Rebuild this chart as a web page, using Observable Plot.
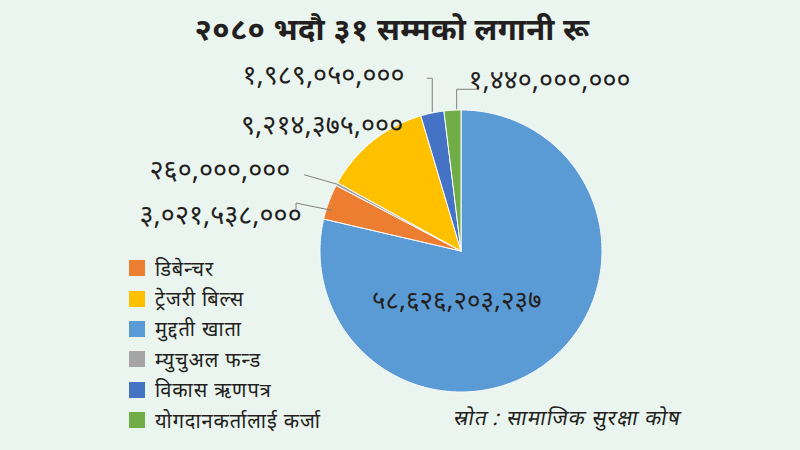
<!DOCTYPE html>
<html>
<head>
<meta charset="utf-8">
<script src="https://cdn.jsdelivr.net/npm/d3@7"></script>
<script src="https://cdn.jsdelivr.net/npm/@observablehq/plot@0.6"></script>
<style>
  html, body { margin: 0; padding: 0; background: #ebf5ef; }
  #wrap { position: relative; width: 800px; height: 450px; overflow: hidden; background: #ebf5ef;
          font-family: "Noto Sans", "DejaVu Sans", sans-serif; color: #231f20; }
  #title { position: absolute; left: 0; width: 784px; top: 7px; text-align: center; font-size: 31px; font-weight: bold; letter-spacing: 0.3px; }
  #legend { position: absolute; left: 129px; top: 253px; font-size: 20px; letter-spacing: 0.9px; }
  #legend .row { display: flex; align-items: center; height: 30.4px; }
  #legend .sw { width: 16px; height: 16px; margin-right: 10px; }
  #source { position: absolute; left: 452px; top: 403px; font-size: 21px; font-style: italic; letter-spacing: 1px; transform: skewX(-10deg); transform-origin: left bottom; }
  #chart { position: absolute; left: 0; top: 0; }
  g[aria-label="outer-labels"] text { letter-spacing: 3.4px; }
  g[aria-label="center-label"] text { letter-spacing: 0.8px; }
</style>
</head>
<body>
<div id="wrap">
  <div id="chart"></div>
  <div id="title"></div>
  <div id="legend"></div>
  <div id="source"></div>
</div>
<script>
// ---- data ----
const titleText = "२०८० भदौ ३१ सम्मको लगानी रू";
const sourceText = "स्रोत : सामाजिक सुरक्षा कोष";
// legend order
const legendCategories = ["डिबेन्चर", "ट्रेजरी बिल्स", "मुद्दती खाता", "म्युचुअल फन्ड", "विकास ऋणपत्र", "योगदानकर्तालाई कर्जा"];
const legendColors = ["#ED7D31", "#FFC000", "#5B9BD5", "#A5A5A5", "#4472C4", "#70AD47"];
// pie order (clockwise from 12 o'clock)
const pieCategories = ["मुद्दती खाता", "डिबेन्चर", "म्युचुअल फन्ड", "ट्रेजरी बिल्स", "विकास ऋणपत्र", "योगदानकर्तालाई कर्जा"];
const pieValues = [58626203237, 3021538000, 260000000, 9214375000, 1989050000, 1440000000];

// ---- layout (in units of pie radius, centre at 0,0) ----
const R = 141, cx = 460.5, cy = 250.5, W = 800, H = 450;
const labelLayout = {
  "मुद्दती खाता":          {x: -0.03,  y: -0.35, anchor: "middle", leader: null},
  "डिबेन्चर":              {x: -1.13,  y: 0.25,  anchor: "end",    leader: "elbowUp"},
  "म्युचुअल फन्ड":          {x: -1.21,  y: 0.57,  anchor: "end",    leader: "straight"},
  "ट्रेजरी बिल्स":           {x: -0.41,  y: 0.89,  anchor: "end",    leader: null},
  "विकास ऋणपत्र":          {x: -0.40,  y: 1.245, anchor: "end",    leader: "elbowRight"},
  "योगदानकर्तालाई कर्जा":   {x: 0.053,  y: 1.207, anchor: "start",  leader: "elbowLeft"}
};

const devDigits = "०१२३४५६७८९";
const toDev = s => s.replace(/[0-9]/g, d => devDigits[+d]);
const fmt = v => toDev(d3.format(",")(v));

document.getElementById("title").textContent = titleText;
document.getElementById("source").textContent = sourceText;
const leg = document.getElementById("legend");
legendCategories.forEach((c, i) => {
  const row = document.createElement("div"); row.className = "row";
  const sw = document.createElement("div"); sw.className = "sw"; sw.style.background = legendColors[i];
  const t = document.createElement("span"); t.textContent = c;
  row.appendChild(sw); row.appendChild(t); leg.appendChild(row);
});

// slices
const arcs = d3.pie().sort(null).startAngle(0).endAngle(2 * Math.PI)(pieValues);
const slicePts = [];
arcs.forEach((a, i) => {
  const n = Math.max(4, Math.ceil((a.endAngle - a.startAngle) / 0.01));
  slicePts.push({cat: pieCategories[i], x: 0, y: 0});
  for (let k = 0; k <= n; k++) {
    const t = a.startAngle + (a.endAngle - a.startAngle) * k / n;
    slicePts.push({cat: pieCategories[i], x: Math.sin(t), y: Math.cos(t)});
  }
  slicePts.push({cat: pieCategories[i], x: 0, y: 0});
});

// labels & leaders
const labels = [], leaders = [];
arcs.forEach((a, i) => {
  const c = pieCategories[i], L = labelLayout[c];
  labels.push({cat: c, x: L.x, y: L.y, text: fmt(pieValues[i]), anchor: L.anchor});
  const mid = (a.startAngle + a.endAngle) / 2;
  const ex = Math.sin(mid), ey = Math.cos(mid);
  if (L.leader === "elbowRight") {
    const lx = L.x + 0.16;
    [[lx, L.y - 0.02], [ex, L.y - 0.02], [ex, ey + 0.01]].forEach(p => leaders.push({cat: c, x: p[0], y: p[1]}));
  } else if (L.leader === "elbowLeft") {
    const lx = L.x + 0.05;
    [[lx, L.y - 0.06], [ex + 0.03, L.y - 0.06], [ex + 0.03, ey + 0.01]].forEach(p => leaders.push({cat: c, x: p[0], y: p[1]}));
  } else if (L.leader === "straight") {
    [[L.x + 0.1, L.y - 0.03], [ex, ey]].forEach(p => leaders.push({cat: c, x: p[0], y: p[1]}));
  } else if (L.leader === "elbowUp") {
    [[L.x - 0.04, L.y + 0.05], [L.x - 0.04, L.y + 0.09], [ex + 0.02, ey - 0.06]].forEach(p => leaders.push({cat: c, x: p[0], y: p[1]}));
  }
});

const font = "Noto Sans, DejaVu Sans, sans-serif";
const chart = Plot.plot({
  width: W, height: H,
  margin: 0,
  style: {background: "transparent", overflow: "visible"},
  x: {domain: [-cx / R, (W - cx) / R], range: [0, W], axis: null},
  y: {domain: [-(H - cy) / R, cy / R], range: [H, 0], axis: null},
  color: {domain: legendCategories, range: legendColors},
  marks: [
    Plot.line(slicePts, {x: "x", y: "y", z: "cat", fill: "cat", stroke: "white", strokeWidth: 1, strokeLinejoin: "round", curve: "linear"}),
    Plot.line(leaders, {x: "x", y: "y", z: "cat", stroke: "#7f7f7f", strokeWidth: 1}),
    Plot.text(labels.filter(d => d.anchor === "end"), {x: "x", y: "y", text: "text", textAnchor: "end", fontSize: 27, fill: "#231f20", fontFamily: font, ariaLabel: "outer-labels"}),
    Plot.text(labels.filter(d => d.anchor === "start"), {x: "x", y: "y", text: "text", textAnchor: "start", fontSize: 27, fill: "#231f20", fontFamily: font, ariaLabel: "outer-labels"}),
    Plot.text(labels.filter(d => d.anchor === "middle"), {x: "x", y: "y", text: "text", textAnchor: "middle", fontSize: 26, fill: "#231f20", fontFamily: font, ariaLabel: "center-label"})
  ]
});
document.getElementById("chart").appendChild(chart);
</script>
</body>
</html>
